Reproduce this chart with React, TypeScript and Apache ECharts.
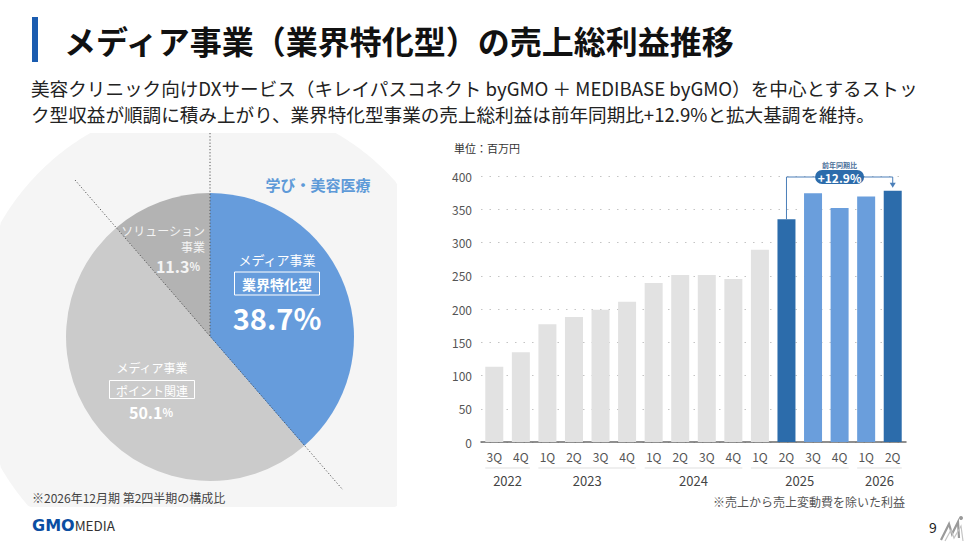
import React, { useEffect, useRef } from "react";
import * as echarts from "echarts";

// ---- data ----
const quarterLabels = ["3Q", "4Q", "1Q", "2Q", "3Q", "4Q", "1Q", "2Q", "3Q", "4Q", "1Q", "2Q", "3Q", "4Q", "1Q", "2Q"];
const fiscalYears = ["2022", "2023", "2024", "2025", "2026"];
const quartersPerYear = [2, 4, 4, 4, 2];
const grossProfit = [113, 135, 177, 188, 199, 211, 239, 251, 251, 245, 289, 335, 374, 352, 369, 378];
const barGroup = ["base", "base", "base", "base", "base", "base", "base", "base", "base", "base", "base", "yoy", "recent", "recent", "recent", "yoy"];
const yMin = 0;
const yMax = 400;
const yStep = 50;
const yoyLabel = "前年同期比";
const yoyGrowth = "+12.9%";
const yoyFromIndex = 11;
const yoyToIndex = 15;

const shareNames = ["メディア事業 業界特化型", "メディア事業 ポイント関連", "ソリューション事業"];
const shareValues = [38.7, 50.1, 11.3];

const titleText = "メディア事業（業界特化型）の売上総利益推移";
const subtitleLines = [
  "美容クリニック向けDXサービス（キレイパスコネクト byGMO ＋ MEDIBASE byGMO）を中心とするストッ",
  "ク型収益が順調に積み上がり、業界特化型事業の売上総利益は前年同期比+12.9%と拡大基調を維持。",
];

// ---- styles ----
const FONT = '"Noto Sans CJK JP", "Noto Sans", sans-serif';
const barColors: Record<string, string> = { base: "#e2e2e2", yoy: "#2c6cab", recent: "#6a9edc" };
const pieColors = ["#669cdc", "#cbcbcb", "#b3b3b3"];

function t(text: string, x: number, y: number, size: number, fill: string, extra: any = {}) {
  return {
    type: "text",
    z: 60,
    style: {
      text,
      x,
      y,
      fill,
      fontSize: size,
      fontFamily: FONT,
      fontWeight: extra.weight || "normal",
      align: extra.align || "left",
      verticalAlign: extra.valign || "middle",
      lineHeight: extra.lineHeight,
      rich: extra.rich,
    },
  };
}

export default function App() {
  const ref = useRef<HTMLDivElement>(null);
  useEffect(() => {
    if (!ref.current) return;
    const chart = echarts.init(ref.current, null, { renderer: "svg", width: 968, height: 544 });
    chart.setOption({
      animation: false,
      backgroundColor: "#ffffff",
      grid: { left: 481, right: 62, top: 176, bottom: 102 },
      xAxis: {
        type: "category",
        data: quarterLabels,
        axisTick: { show: false },
        axisLine: { lineStyle: { color: "#6a6a6a", width: 1.5 } },
        axisLabel: { color: "#555", fontSize: 12, fontFamily: FONT, margin: 8, interval: 0 },
      },
      yAxis: {
        type: "value",
        min: yMin,
        max: yMax,
        interval: yStep,
        axisLine: { show: false },
        axisTick: { show: false },
        axisLabel: { color: "#555", fontSize: 12, fontFamily: FONT, margin: 9 },
        splitLine: { lineStyle: { color: "#c4c4c4", type: [1.5, 7], width: 1.2 } },
      },
      series: [
        {
          type: "bar",
          barWidth: 18,
          z: 3,
          data: grossProfit.map((v, i) => ({ value: v, itemStyle: { color: barColors[barGroup[i]] } })),
        },
        {
          type: "pie",
          center: [210, 337],
          radius: 144,
          startAngle: 90,
          clockwise: true,
          label: { show: false },
          labelLine: { show: false },
          silent: true,
          z: 5,
          itemStyle: { borderWidth: 0 },
          data: shareValues.map((v, i) => ({ name: shareNames[i], value: v, itemStyle: { color: pieColors[i] } })),
        },
      ],
    });

    const px = (i: number) => chart.convertToPixel({ xAxisIndex: 0 }, i) as number;
    const py = (v: number) => chart.convertToPixel({ yAxisIndex: 0 }, v) as number;

    const g: any[] = [];

    // background of pie panel: circle clipped to panel box
    const bc = [213, 345];
    const br = 245;
    const box = { x0: 0, x1: 397, y0: 133, y1: 507 };
    const pts: number[][] = [];
    for (let a = 0; a < 360; a += 1) {
      const r = (a * Math.PI) / 180;
      let x = bc[0] + br * Math.cos(r);
      let y = bc[1] + br * Math.sin(r);
      x = Math.min(box.x1, Math.max(box.x0, x));
      y = Math.min(box.y1, Math.max(box.y0, y));
      pts.push([x, y]);
    }
    g.push({ type: "polygon", z: -10, shape: { points: pts }, style: { fill: "#f5f5f5" } });

    // dotted guide lines
    g.push({ type: "line", z: 50, shape: { x1: 210, y1: 133, x2: 210, y2: 337 }, style: { stroke: "#555", lineWidth: 1, lineDash: [1.2, 2] } });
    g.push({ type: "line", z: 50, shape: { x1: 75, y1: 180, x2: 343, y2: 490 }, style: { stroke: "#555", lineWidth: 1, lineDash: [1.2, 2] } });

    // pie labels
    g.push(t("学び・美容医療", 318, 184, 15, "#5e9ad8", { weight: "bold", align: "center" }));
    g.push(t("メディア事業", 277, 259, 13, "#ffffff", { align: "center" }));
    g.push({ type: "rect", z: 60, shape: { x: 234.5, y: 272, width: 85, height: 23 }, style: { fill: "none", stroke: "#ffffff", lineWidth: 1 } });
    g.push(t("業界特化型", 277, 283.5, 14, "#ffffff", { weight: "bold", align: "center" }));
    g.push(t(`${shareValues[0]}%`, 277, 317, 29, "#ffffff", { weight: "bold", align: "center" }));

    g.push(t("ソリューション\n事業", 205, 222, 12, "#f4f4f4", { align: "right", valign: "top", lineHeight: 16 }));
    g.push(
      t(`{a|${shareValues[2]}}{b|%}`, 200, 266, 16, "#f4f4f4", {
        align: "right",
        rich: {
          a: { fontSize: 16, fontWeight: "bold", fontFamily: FONT, fill: "#f4f4f4", color: "#f4f4f4" },
          b: { fontSize: 11, fontWeight: "bold", fontFamily: FONT, fill: "#f4f4f4", color: "#f4f4f4" },
        },
      })
    );

    g.push(t("メディア事業", 152, 367, 12, "#ffffff", { align: "center" }));
    g.push({ type: "rect", z: 60, shape: { x: 109.5, y: 380.5, width: 85, height: 18 }, style: { fill: "none", stroke: "#ffffff", lineWidth: 1 } });
    g.push(t("ポイント関連", 152, 390, 12, "#ffffff", { align: "center" }));
    g.push(
      t(`{a|${shareValues[1]}}{b|%}`, 151, 412, 16, "#ffffff", {
        align: "center",
        rich: {
          a: { fontSize: 16, fontWeight: "bold", fontFamily: FONT, fill: "#ffffff", color: "#ffffff" },
          b: { fontSize: 11, fontWeight: "bold", fontFamily: FONT, fill: "#ffffff", color: "#ffffff" },
        },
      })
    );
    g.push(t("※2026年12月期 第2四半期の構成比", 32, 497, 12, "#444"));

    // title
    g.push({ type: "rect", z: 60, shape: { x: 32, y: 17, width: 6, height: 45 }, style: { fill: "#1a5cb0" } });
    g.push(t(titleText, 64, 40, 32, "#111", { weight: "bold" }));
    g.push(t(subtitleLines.join("\n"), 31, 74, 18.6, "#222", { valign: "top", lineHeight: 26 }));

    // bar chart extras
    g.push(t("単位：百万円", 454, 148, 11, "#333"));
    let start = 0;
    const half = 9;
    const lineY = 468;
    fiscalYears.forEach((yr, k) => {
      const end = start + quartersPerYear[k] - 1;
      const x0 = px(start) - half;
      const x1 = px(end) + half;
      g.push({ type: "line", z: 40, shape: { x1: x0, y1: lineY, x2: x1, y2: lineY }, style: { stroke: "#efefef", lineWidth: 2 } });
      g.push(t(yr, (x0 + x1) / 2, 480, 13, "#444", { align: "center" }));
      start = end + 1;
    });
    g.push(t("※売上から売上変動費を除いた利益", 905, 501, 12, "#555", { align: "right" }));

    // yoy annotation
    const xa = px(yoyFromIndex);
    const xb = px(yoyToIndex);
    const ya = py(grossProfit[yoyFromIndex]);
    const yb = py(grossProfit[yoyToIndex]);
    const yTop = py(yMax) + 1;
    const mid = (xa + xb) / 2;
    const lc = "#4b7fb9";
    g.push({ type: "polyline", z: 55, shape: { points: [[xa, ya], [xa, yTop], [xb, yTop], [xb, yb - 7]] }, style: { stroke: lc, lineWidth: 1, fill: "none" } });
    g.push({ type: "polygon", z: 55, shape: { points: [[xb - 3, yb - 8], [xb + 3, yb - 8], [xb, yb - 3]] }, style: { fill: lc } });
    g.push({ type: "rect", z: 56, shape: { x: mid - 24.5, y: yTop - 7, width: 49, height: 14, r: 7 }, style: { fill: "#2c6cab" } });
    g.push(t(yoyGrowth, mid, yTop, 12, "#ffffff", { weight: "bold", align: "center" }));
    g.push(t(yoyLabel, mid, yTop - 12, 7, "#4b6f9a", { weight: "bold", align: "center" }));

    // footer
    g.push(
      t("{a|GMO}{b|MEDIA}", 32, 525, 14, "#0b4ea2", {
        rich: {
          a: { fontSize: 16, fontWeight: "bold", fontFamily: "DejaVu Sans", fill: "#0b4ea2", color: "#0b4ea2" },
          b: { fontSize: 13.5, fontFamily: FONT, fill: "#333", color: "#333" },
        },
      })
    );
    g.push(t("9", 933, 527, 14, "#222", { align: "center" }));
    g.push({ type: "polyline", z: 60, shape: { points: [[941, 540], [949, 524], [952, 534], [958, 522], [959, 538]] }, style: { stroke: "#9a9a9a", lineWidth: 2.2, fill: "none" } });
    g.push({ type: "polyline", z: 60, shape: { points: [[945, 541], [951, 530], [954, 538], [961, 526], [963, 541]] }, style: { stroke: "#c4c4c4", lineWidth: 1.2, fill: "none" } });
    g.push({ type: "circle", z: 60, shape: { cx: 961, cy: 518, r: 2 }, style: { fill: "#9a9a9a" } });

    chart.setOption({ graphic: { elements: g } });
    return () => chart.dispose();
  }, []);
  return <div ref={ref} style={{ position: "absolute", left: 0, top: 0, width: 968, height: 544 }} />;
}
